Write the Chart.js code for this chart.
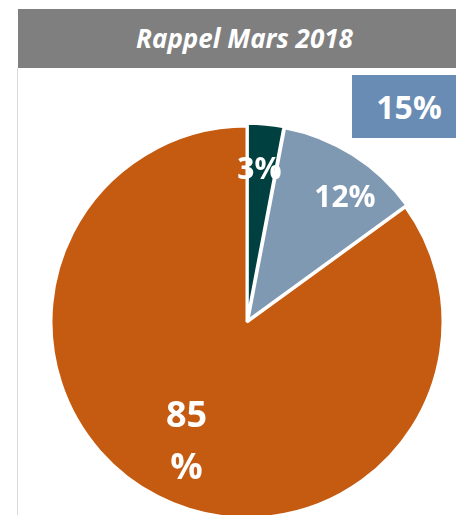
<!DOCTYPE html>
<html>
<head>
<meta charset="utf-8">
<script src="https://cdn.jsdelivr.net/npm/chart.js@4/dist/chart.umd.min.js"></script>
<style>
  html, body { margin: 0; padding: 0; background: #ffffff; }
  #wrap { position: relative; width: 456px; height: 515px; overflow: hidden; font-family: "Open Sans", "DejaVu Sans", sans-serif; }
  #titleBar { position: absolute; left: 18px; top: 9px; width: 438px; height: 59px; background: #7f7f7f;
    color: #ffffff; font-weight: bold; font-style: italic; font-size: 26px; line-height: 59px;
    text-align: center; box-sizing: border-box; padding-left: 15px; z-index: 2; }
  #leftLine { position: absolute; left: 17px; top: 68px; width: 1px; height: 447px; background: #d9d9d9; z-index: 2; }
  #totalBox { position: absolute; left: 352px; top: 75px; width: 104px; height: 63px; background: #688cb3;
    color: #ffffff; font-weight: bold; font-size: 32px; line-height: 63px; text-align: center;
    box-sizing: border-box; padding-left: 10px; z-index: 2; }
  #chartBox { position: absolute; left: 0; top: 0; width: 456px; height: 515px; z-index: 1; }
</style>
</head>
<body>
<div id="wrap">
  <div id="titleBar"></div>
  <div id="leftLine"></div>
  <div id="totalBox"></div>
  <div id="chartBox"><canvas id="c" width="456" height="515"></canvas></div>
</div>
<script>
// ---- data ----
const titleText = "Rappel Mars 2018";
const categories = ["A", "B", "C"];
const values = [3, 12, 85];
const valueLabels = [["3%"], ["12%"], ["85", "%"]];
const totalLabel = "15%";
const sliceColors = ["#004040", "#7f99b3", "#c55a11"];

document.getElementById("titleBar").textContent = titleText;
document.getElementById("totalBox").textContent = totalLabel;

const labelPlugin = {
  id: "sliceLabels",
  afterDatasetsDraw(chart, args, opts) {
    const ctx = chart.ctx;
    const meta = chart.getDatasetMeta(0);
    meta.data.forEach((arc, i) => {
      const p = opts.place[i];
      const props = arc.getProps(["x", "y", "startAngle", "endAngle", "outerRadius"], true);
      const mid = (props.startAngle + props.endAngle) / 2 + p.da * Math.PI / 180;
      const r = props.outerRadius * p.f;
      const cx = props.x + Math.cos(mid) * r;
      const cy = props.y + Math.sin(mid) * r + p.dy;
      const lines = valueLabels[i];
      ctx.save();
      ctx.fillStyle = "#ffffff";
      ctx.font = "bold " + p.size + "px 'Open Sans', sans-serif";
      ctx.textAlign = "center";
      ctx.textBaseline = "middle";
      const lh = p.lh;
      const y0 = cy - (lines.length - 1) * lh / 2;
      lines.forEach((t, k) => ctx.fillText(t, cx, y0 + k * lh));
      ctx.restore();
    });
  }
};

new Chart(document.getElementById("c"), {
  type: "pie",
  data: {
    labels: categories,
    datasets: [{
      data: values,
      backgroundColor: sliceColors,
      borderColor: "#ffffff",
      borderWidth: 3,
      offset: [6, 6, 0]
    }]
  },
  options: {
    responsive: false,
    animation: false,
    radius: 196,
    layout: { padding: { left: 38, right: 0, top: 129, bottom: 0 } },
    plugins: {
      legend: { display: false },
      tooltip: { enabled: false },
      title: { display: false },
      sliceLabels: {
        place: [
          { f: 0.79, da: -0.8, size: 30, lh: 30, dy: 3 },
          { f: 0.815, da: 5.4, size: 30, lh: 30, dy: 3 },
          { f: 0.68, da: 0, size: 36, lh: 52, dy: 2 }
        ]
      }
    }
  },
  plugins: [labelPlugin]
});
</script>
</body>
</html>
